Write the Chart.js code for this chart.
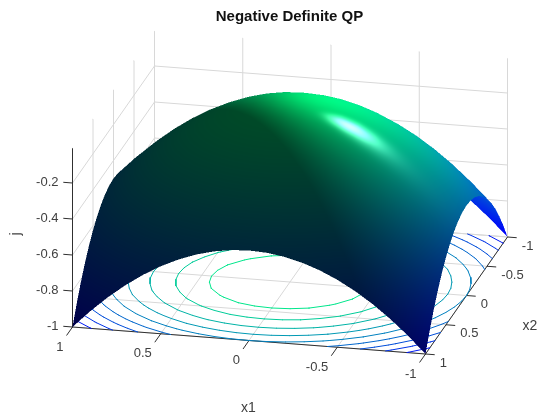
<!DOCTYPE html>
<html>
<head>
<meta charset="utf-8">
<title>Negative Definite QP</title>
<script src="https://cdn.jsdelivr.net/npm/chart.js@4.4.0/dist/chart.umd.min.js"></script>
<style>
  html, body { margin: 0; padding: 0; background: #fff; }
  canvas { display: block; }
</style>
</head>
<body>
<canvas id="qpChart" width="560" height="420"></canvas>
<script>
'use strict';

// Grid of the surface and its j values (rows run along x2, columns along x1)
const x1Grid = [-1, -0.9, -0.8, -0.7, -0.6, -0.5, -0.4, -0.3, -0.2, -0.1, 0, 0.1, 0.2, 0.3, 0.4, 0.5, 0.6, 0.7, 0.8, 0.9, 1];
const x2Grid = [-1, -0.9, -0.8, -0.7, -0.6, -0.5, -0.4, -0.3, -0.2, -0.1, 0, 0.1, 0.2, 0.3, 0.4, 0.5, 0.6, 0.7, 0.8, 0.9, 1];
const jValues = [
  [-1, -.905, -.82, -.745, -.68, -.625, -.58, -.545, -.52, -.505, -.5, -.505, -.52, -.545, -.58, -.625, -.68, -.745, -.82, -.905, -1],
  [-.905, -.81, -.725, -.65, -.585, -.53, -.485, -.45, -.425, -.41, -.405, -.41, -.425, -.45, -.485, -.53, -.585, -.65, -.725, -.81, -.905],
  [-.82, -.725, -.64, -.565, -.5, -.445, -.4, -.365, -.34, -.325, -.32, -.325, -.34, -.365, -.4, -.445, -.5, -.565, -.64, -.725, -.82],
  [-.745, -.65, -.565, -.49, -.425, -.37, -.325, -.29, -.265, -.25, -.245, -.25, -.265, -.29, -.325, -.37, -.425, -.49, -.565, -.65, -.745],
  [-.68, -.585, -.5, -.425, -.36, -.305, -.26, -.225, -.2, -.185, -.18, -.185, -.2, -.225, -.26, -.305, -.36, -.425, -.5, -.585, -.68],
  [-.625, -.53, -.445, -.37, -.305, -.25, -.205, -.17, -.145, -.13, -.125, -.13, -.145, -.17, -.205, -.25, -.305, -.37, -.445, -.53, -.625],
  [-.58, -.485, -.4, -.325, -.26, -.205, -.16, -.125, -.1, -.085, -.08, -.085, -.1, -.125, -.16, -.205, -.26, -.325, -.4, -.485, -.58],
  [-.545, -.45, -.365, -.29, -.225, -.17, -.125, -.09, -.065, -.05, -.045, -.05, -.065, -.09, -.125, -.17, -.225, -.29, -.365, -.45, -.545],
  [-.52, -.425, -.34, -.265, -.2, -.145, -.1, -.065, -.04, -.025, -.02, -.025, -.04, -.065, -.1, -.145, -.2, -.265, -.34, -.425, -.52],
  [-.505, -.41, -.325, -.25, -.185, -.13, -.085, -.05, -.025, -.01, -.005, -.01, -.025, -.05, -.085, -.13, -.185, -.25, -.325, -.41, -.505],
  [-.5, -.405, -.32, -.245, -.18, -.125, -.08, -.045, -.02, -.005, 0, -.005, -.02, -.045, -.08, -.125, -.18, -.245, -.32, -.405, -.5],
  [-.505, -.41, -.325, -.25, -.185, -.13, -.085, -.05, -.025, -.01, -.005, -.01, -.025, -.05, -.085, -.13, -.185, -.25, -.325, -.41, -.505],
  [-.52, -.425, -.34, -.265, -.2, -.145, -.1, -.065, -.04, -.025, -.02, -.025, -.04, -.065, -.1, -.145, -.2, -.265, -.34, -.425, -.52],
  [-.545, -.45, -.365, -.29, -.225, -.17, -.125, -.09, -.065, -.05, -.045, -.05, -.065, -.09, -.125, -.17, -.225, -.29, -.365, -.45, -.545],
  [-.58, -.485, -.4, -.325, -.26, -.205, -.16, -.125, -.1, -.085, -.08, -.085, -.1, -.125, -.16, -.205, -.26, -.325, -.4, -.485, -.58],
  [-.625, -.53, -.445, -.37, -.305, -.25, -.205, -.17, -.145, -.13, -.125, -.13, -.145, -.17, -.205, -.25, -.305, -.37, -.445, -.53, -.625],
  [-.68, -.585, -.5, -.425, -.36, -.305, -.26, -.225, -.2, -.185, -.18, -.185, -.2, -.225, -.26, -.305, -.36, -.425, -.5, -.585, -.68],
  [-.745, -.65, -.565, -.49, -.425, -.37, -.325, -.29, -.265, -.25, -.245, -.25, -.265, -.29, -.325, -.37, -.425, -.49, -.565, -.65, -.745],
  [-.82, -.725, -.64, -.565, -.5, -.445, -.4, -.365, -.34, -.325, -.32, -.325, -.34, -.365, -.4, -.445, -.5, -.565, -.64, -.725, -.82],
  [-.905, -.81, -.725, -.65, -.585, -.53, -.485, -.45, -.425, -.41, -.405, -.41, -.425, -.45, -.485, -.53, -.585, -.65, -.725, -.81, -.905],
  [-1, -.905, -.82, -.745, -.68, -.625, -.58, -.545, -.52, -.505, -.5, -.505, -.52, -.545, -.58, -.625, -.68, -.745, -.82, -.905, -1]
];

// Contour levels on the floor and axis ticks
const contourLevels = [-0.9, -0.8, -0.7, -0.6, -0.5, -0.4, -0.3, -0.2, -0.1];
const x1Ticks = [1, 0.5, 0, -0.5, -1];
const x2Ticks = [1, 0.5, 0, -0.5, -1];
const jTicks = [-1, -0.8, -0.6, -0.4, -0.2];
const x1TickLabels = ['1', '0.5', '0', '-0.5', '-1'];
const x2TickLabels = ['1', '0.5', '0', '-0.5', '-1'];
const jTickLabels = ['-1', '-0.8', '-0.6', '-0.4', '-0.2'];
const jFloor = -1;
const jTop = -0.008;

const FONT = '"Liberation Sans", Arial, sans-serif';
const TEXT_COLOR = '#404040';
const TITLE_BOX = 27.8;

// Orthographic camera, screen units per data unit
function project(x1, x2, j) {
  return {
    x: 290 - 176.5 * x1 - 41 * x2,
    y: 282 - 13.5 * x1 + 58.5 * x2 - 180 * (j + 1)
  };
}

// Depth along the line of sight, only used to hide far parts of the surface
const sightDir = [-0.210, 0.919, 0.331];
const zScale = 1.054;

// Lighting terms; normalSteep exaggerates the slope of the shading normals
const normalSteep = 2.8;
const viewDir = [-0.388, 0.855, 0.346];
const lightDir = [-0.568, -0.568, 0.59];
const AMBIENT = 0.3, DIFFUSE = 0.75, SPECULAR = 0.9, SHININESS = 32;

function dot(a, b) {
  return a[0] * b[0] + a[1] * b[1] + a[2] * b[2];
}

// winter colormap, j = -1 is blue and j = 0 is green
function winter(j) {
  const t = Math.min(1, Math.max(0, j + 1));
  return [0, 255 * t, 255 * (1 - t / 2)];
}

function shade(j, n, out, at) {
  const len = Math.hypot(n[0], n[1], n[2]);
  const N = [n[0] / len, n[1] / len, n[2] / len];
  const ndl = dot(N, lightDir);
  const R = [2 * ndl * N[0] - lightDir[0], 2 * ndl * N[1] - lightDir[1], 2 * ndl * N[2] - lightDir[2]];
  const base = winter(j);
  const k = AMBIENT + DIFFUSE * Math.max(0, ndl);
  const spec = ndl > 0 ? SPECULAR * 255 * Math.pow(Math.max(0, dot(R, viewDir)), SHININESS) : 0;
  out[at] = Math.min(255, base[0] * k + spec);
  out[at + 1] = Math.min(255, base[1] * k + spec);
  out[at + 2] = Math.min(255, base[2] * k + spec);
  out[at + 3] = 255;
}

// Slope along one grid direction, taken from neighbouring table values
function slope(get, i, n, h) {
  if (i === 0) return (-3 * get(0) + 4 * get(1) - get(2)) / (2 * h);
  if (i === n - 1) return (3 * get(n - 1) - 4 * get(n - 2) + get(n - 3)) / (2 * h);
  return (get(i + 1) - get(i - 1)) / (2 * h);
}

function vertexNormal(r, c) {
  const dx1 = slope(k => jValues[r][k], c, x1Grid.length, x1Grid[1] - x1Grid[0]);
  const dx2 = slope(k => jValues[k][c], r, x2Grid.length, x2Grid[1] - x2Grid[0]);
  return [-dx1 * normalSteep, -dx2 * normalSteep, 1];
}

// Segments for one contour level, found cell by cell in the j table
function contourSegments(level) {
  const pts = [];
  const cross = (x1a, x2a, ja, x1b, x2b, jb) => {
    if ((ja < level) === (jb < level)) return null;
    const t = (level - ja) / (jb - ja);
    return project(x1a + t * (x1b - x1a), x2a + t * (x2b - x2a), jFloor);
  };
  for (let r = 0; r < x2Grid.length - 1; r++) {
    for (let c = 0; c < x1Grid.length - 1; c++) {
      const xa = x1Grid[c], xb = x1Grid[c + 1], ya = x2Grid[r], yb = x2Grid[r + 1];
      const j00 = jValues[r][c], j01 = jValues[r][c + 1], j10 = jValues[r + 1][c], j11 = jValues[r + 1][c + 1];
      const hits = [
        cross(xa, ya, j00, xb, ya, j01),
        cross(xb, ya, j01, xb, yb, j11),
        cross(xb, yb, j11, xa, yb, j10),
        cross(xa, yb, j10, xa, ya, j00)
      ].filter(Boolean);
      if (hits.length >= 2) pts.push(hits[0], hits[1], { x: NaN, y: NaN });
    }
  }
  return pts;
}

// Polylines for the walls and floor grid
function gridLines() {
  const pts = [];
  const add = (a, b) => pts.push(project(a[0], a[1], a[2]), project(b[0], b[1], b[2]), { x: NaN, y: NaN });
  x1Ticks.forEach(t => {
    add([t, -1, jFloor], [t, 1, jFloor]);
    add([t, -1, jFloor], [t, -1, jTop]);
  });
  x2Ticks.forEach(t => {
    add([-1, t, jFloor], [1, t, jFloor]);
    add([1, t, jFloor], [1, t, jTop]);
  });
  jTicks.forEach(t => {
    add([1, 1, t], [1, -1, t]);
    add([1, -1, t], [-1, -1, t]);
  });
  return pts;
}

function axisLines() {
  const pts = [];
  const add = (a, b) => pts.push(project(a[0], a[1], a[2]), project(b[0], b[1], b[2]), { x: NaN, y: NaN });
  add([1, 1, jFloor], [-1, 1, jFloor]);
  add([-1, 1, jFloor], [-1, -1, jFloor]);
  add([1, 1, jFloor], [1, 1, jTop]);
  x1Ticks.forEach(t => add([t, 1, jFloor], [t, 1.14, jFloor]));
  x2Ticks.forEach(t => add([-1, t, jFloor], [-1.05, t, jFloor]));
  jTicks.forEach(t => add([1, 1, t], [1.05, 1, t]));
  return pts;
}

// One point per table entry; the mesh plugin reads their pixel positions back
function surfacePoints() {
  const pts = [];
  x2Grid.forEach((x2, r) => x1Grid.forEach((x1, c) => pts.push(project(x1, x2, jValues[r][c]))));
  return pts;
}

function lineDataset(label, data, color, width) {
  return {
    label, data,
    showLine: true,
    spanGaps: false,
    pointRadius: 0,
    borderColor: color,
    borderWidth: width,
    borderCapStyle: 'round',
    clip: false
  };
}

const contourSets = contourLevels.map(level => {
  const c = winter(level);
  return lineDataset('level ' + level, contourSegments(level), 'rgb(' + c.map(Math.round).join(',') + ')', 1);
});

// Rasterizes the lit surface with a depth buffer at twice the canvas size,
// then lays it over the grid and contours
const surfaceMesh = {
  id: 'surfaceMesh',
  afterDatasetsDraw(chart) {
    const meta = chart.getDatasetMeta(chart.data.datasets.findIndex(d => d.label === 'surface'));
    const SS = 2;
    const W = chart.width * SS, H = chart.height * SS;
    const off = document.createElement('canvas');
    off.width = W;
    off.height = H;
    const octx = off.getContext('2d');
    const img = octx.createImageData(W, H);
    const zbuf = new Float32Array(W * H).fill(-Infinity);
    const nCol = x1Grid.length, nRow = x2Grid.length;

    const verts = [];
    for (let r = 0; r < nRow; r++) {
      for (let c = 0; c < nCol; c++) {
        const el = meta.data[r * nCol + c];
        verts.push({
          x: el.x * SS,
          y: el.y * SS,
          j: jValues[r][c],
          d: dot([x1Grid[c], x2Grid[r], jValues[r][c] * zScale], sightDir),
          n: vertexNormal(r, c)
        });
      }
    }

    const fillTri = (a, b, c) => {
      const area = (b.x - a.x) * (c.y - a.y) - (b.y - a.y) * (c.x - a.x);
      if (Math.abs(area) < 1e-9) return;
      const minX = Math.max(0, Math.floor(Math.min(a.x, b.x, c.x)));
      const maxX = Math.min(W - 1, Math.ceil(Math.max(a.x, b.x, c.x)));
      const minY = Math.max(0, Math.floor(Math.min(a.y, b.y, c.y)));
      const maxY = Math.min(H - 1, Math.ceil(Math.max(a.y, b.y, c.y)));
      const n = [0, 0, 0];
      for (let py = minY; py <= maxY; py++) {
        for (let px = minX; px <= maxX; px++) {
          const fx = px + 0.5, fy = py + 0.5;
          const w1 = ((fx - a.x) * (c.y - a.y) - (fy - a.y) * (c.x - a.x)) / area;
          const w2 = ((b.x - a.x) * (fy - a.y) - (b.y - a.y) * (fx - a.x)) / area;
          const w0 = 1 - w1 - w2;
          if (w0 < -1e-4 || w1 < -1e-4 || w2 < -1e-4) continue;
          const d = w0 * a.d + w1 * b.d + w2 * c.d;
          const at = py * W + px;
          if (d <= zbuf[at]) continue;
          zbuf[at] = d;
          for (let i = 0; i < 3; i++) n[i] = w0 * a.n[i] + w1 * b.n[i] + w2 * c.n[i];
          shade(w0 * a.j + w1 * b.j + w2 * c.j, n, img.data, at * 4);
        }
      }
    };

    for (let r = 0; r < nRow - 1; r++) {
      for (let c = 0; c < nCol - 1; c++) {
        const v00 = verts[r * nCol + c], v01 = verts[r * nCol + c + 1];
        const v10 = verts[(r + 1) * nCol + c], v11 = verts[(r + 1) * nCol + c + 1];
        fillTri(v00, v01, v11);
        fillTri(v00, v11, v10);
      }
    }

    octx.putImageData(img, 0, 0);
    chart.ctx.drawImage(off, 0, 0, chart.width, chart.height);
  }
};

// Tick labels and axis titles sit at projected positions
const axisText = {
  id: 'axisText',
  afterDraw(chart) {
    const ctx = chart.ctx;
    const sx = chart.scales.x, sy = chart.scales.y;
    const put = (text, p, dx, dy, align, size) => {
      ctx.font = size + 'px ' + FONT;
      ctx.textAlign = align;
      ctx.textBaseline = 'middle';
      ctx.fillText(text, sx.getPixelForValue(p.x) + dx, sy.getPixelForValue(p.y) + dy);
    };
    ctx.save();
    ctx.fillStyle = TEXT_COLOR;
    x1Ticks.forEach((t, i) => put(x1TickLabels[i], project(t, 1, jFloor), -9, 20, 'right', 13));
    x2Ticks.forEach((t, i) => put(x2TickLabels[i], project(-1, t, jFloor), 14.3, 9, 'left', 13));
    jTicks.forEach((t, i) => put(jTickLabels[i], project(1, 1, t), -14, -0.5, 'right', 13));
    put('x1', project(0, 1, jFloor), -0.5, 67.5, 'center', 14);
    put('x2', project(-1, 0, jFloor), 63.5, 31, 'center', 14);
    ctx.translate(16, 234);
    ctx.rotate(-Math.PI / 2);
    ctx.font = '14px ' + FONT;
    ctx.textAlign = 'center';
    ctx.textBaseline = 'middle';
    ctx.fillText('j', 0, 0);
    ctx.restore();
  }
};

new Chart(document.getElementById('qpChart'), {
  type: 'scatter',
  data: {
    datasets: [
      ...contourSets,
      lineDataset('axes', axisLines(), '#303030', 1),
      lineDataset('grid', gridLines(), '#d8d8d8', 1),
      { label: 'surface', data: surfacePoints(), showLine: false, pointRadius: 0, clip: false }
    ]
  },
  options: {
    responsive: false,
    animation: false,
    layout: { padding: { left: 19 } },
    plugins: {
      legend: { display: false },
      tooltip: { enabled: false },
      title: {
        display: true,
        text: 'Negative Definite QP',
        color: '#111111',
        font: { family: FONT, size: 15, weight: 'bold' },
        padding: { top: 8, bottom: 1.8 }
      }
    },
    scales: {
      x: { type: 'linear', display: false, min: 19, max: 560 },
      y: { type: 'linear', display: false, reverse: true, min: TITLE_BOX, max: 420 }
    }
  },
  plugins: [surfaceMesh, axisText]
});
</script>
</body>
</html>
